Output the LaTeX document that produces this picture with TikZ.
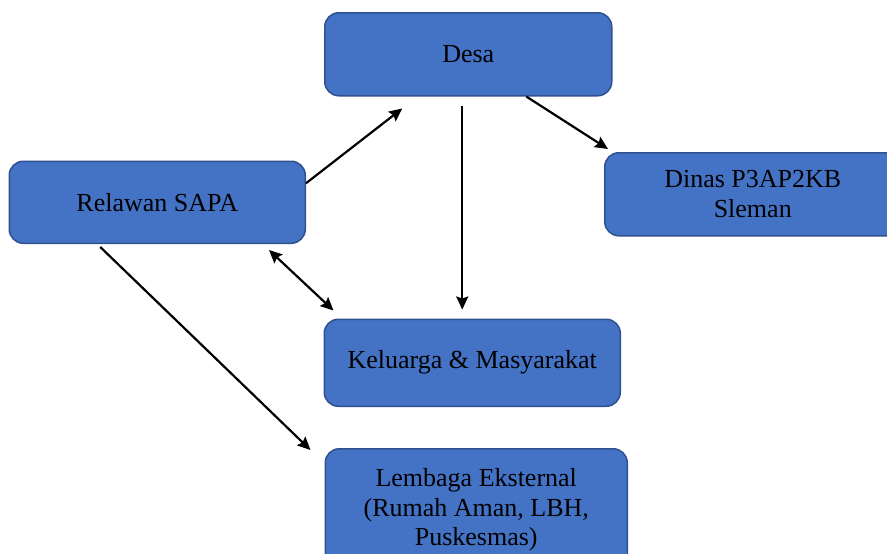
\documentclass[tikz,border=0pt]{standalone}
\usepackage{xcolor}
\usepackage{fontspec}
\setmainfont{Liberation Serif}
\usepackage{tikz}
\usetikzlibrary{positioning,arrows.meta}

\definecolor{boxfill}{HTML}{4472C4}
\definecolor{boxline}{HTML}{2F528F}

\begin{document}
\begin{tikzpicture}[x=1pt, y=-1pt, thick,
    box/.style={rectangle, rounded corners=14pt, draw=boxline, line width=1.5pt, fill=boxfill,
        minimum width=296pt, minimum height=83pt, inner sep=0pt, align=center,
        font=\fontsize{26}{29.5}\selectfont},
    arr/.style={-{Stealth[length=13pt,width=12pt,inset=2pt]}, line width=2.2pt},
    both/.style={{Stealth[length=13pt,width=12pt,inset=2pt]}-{Stealth[length=13pt,width=12pt,inset=2pt]}, line width=2.2pt}]

        \clip (0,0) rectangle (887,554);

        % 节点与箭头
        \node (desa) [box, minimum width=287pt, anchor=north west] at (324,12) {Desa};
        \node (relawan) [box, minimum height=82pt, below left=64pt and 18pt of desa] {Relawan SAPA};
        \node (dinas) [box, anchor=north west] at (604,152) {Dinas P3AP2KB\\Sleman};
        \node (keluarga) [box, minimum height=87pt, below=222pt of desa, xshift=4pt] {Keluarga \& Masyarakat};
        \node (lembaga) [box, minimum width=302pt, minimum height=122pt, below=41pt of keluarga, xshift=4pt] {Lembaga Eksternal\\(Rumah Aman, LBH,\\Puskesmas)};

        \draw[arr] ([yshift=19pt]relawan.east) -- ([xshift=-66pt,yshift=-12pt]desa.south);
        \draw[arr] ([xshift=-6pt,yshift=-9pt]desa.south) -- ([xshift=-6pt,yshift=9pt]desa.south |- keluarga.north);
        \draw[arr] ([xshift=58pt]desa.south) -- ([xshift=4pt,yshift=3pt]dinas.north west);
        \draw[both] ([xshift=-37pt,yshift=-6pt]relawan.south east) -- ([xshift=10pt,yshift=8pt]keluarga.north west);
        \draw[arr] ([xshift=-57pt,yshift=-3pt]relawan.south) -- ([xshift=-14pt,yshift=-2pt]lembaga.north west);

    \end{tikzpicture}
\end{document}
